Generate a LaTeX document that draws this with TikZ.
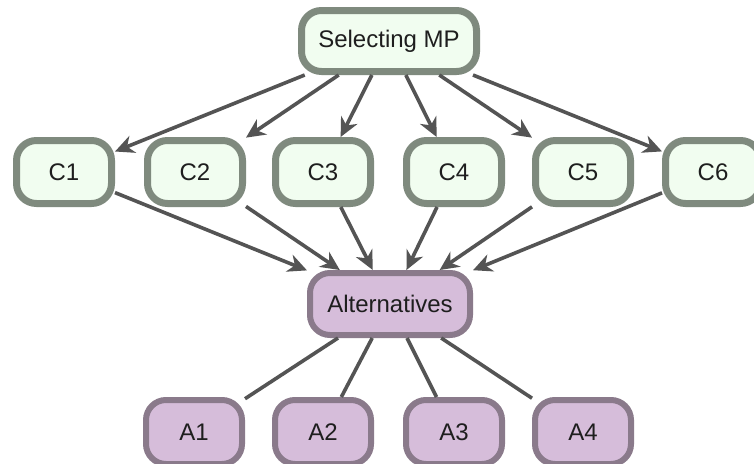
\documentclass[tikz,border=0pt]{standalone}
\usepackage{fontspec}
\setmainfont{Liberation Sans}
\usetikzlibrary{arrows.meta}
\definecolor{gfill}{HTML}{F1FDF0}
\definecolor{gline}{HTML}{7F8A7E}
\definecolor{pfill}{HTML}{D6BDDA}
\definecolor{pline}{HTML}{8A7A8B}
\definecolor{edge}{HTML}{545454}
\definecolor{txt}{HTML}{1E1E1E}
\tikzset{
  base/.style={rounded corners=20pt, text=txt, font=\fontsize{24}{28}\selectfont, inner sep=4pt},
  gbox/.style={base, draw=gline, fill=gfill, line width=7pt, minimum width=95pt, minimum height=63pt},
  pbox/.style={base, draw=pline, fill=pfill, line width=6pt, minimum width=96pt, minimum height=64pt},
  arr/.style={draw=edge, line width=3.6pt, -{Stealth[length=19pt, width=18pt, inset=6pt]}},
  lin/.style={draw=edge, line width=3.6pt}
}
\begin{document}
\begin{tikzpicture}[x=1pt, y=-1pt]
\useasboundingbox (0,0) rectangle (754,463);
\clip (0,0) rectangle (754,463);
\fill[white] (0,0) rectangle (754,463);
\node[gbox, minimum width=175pt, minimum height=61pt] (smp) at (389,41) {Selecting MP};
\node[gbox] (c1) at (64,172) {C1};
\node[gbox] (c2) at (195,172) {C2};
\node[gbox] (c3) at (323,172) {C3};
\node[gbox] (c4) at (454,172) {C4};
\node[gbox] (c5) at (583,172) {C5};
\node[gbox] (c6) at (713,172) {C6};
\node[pbox, minimum width=160pt, minimum height=62pt] (alt) at (390,304) {Alternatives};
\node[pbox] (a1) at (194,432) {A1};
\node[pbox] (a2) at (323,432) {A2};
\node[pbox] (a3) at (454,432) {A3};
\node[pbox] (a4) at (583,432) {A4};
\foreach \c in {c1,c2,c3,c4,c5,c6} {
  \draw[arr] (smp) -- (\c);
  \draw[arr] (\c) -- (alt);
}
\foreach \a in {a1,a2,a3,a4} {
  \draw[lin] (alt) -- (\a);
}
\end{tikzpicture}
\end{document}
